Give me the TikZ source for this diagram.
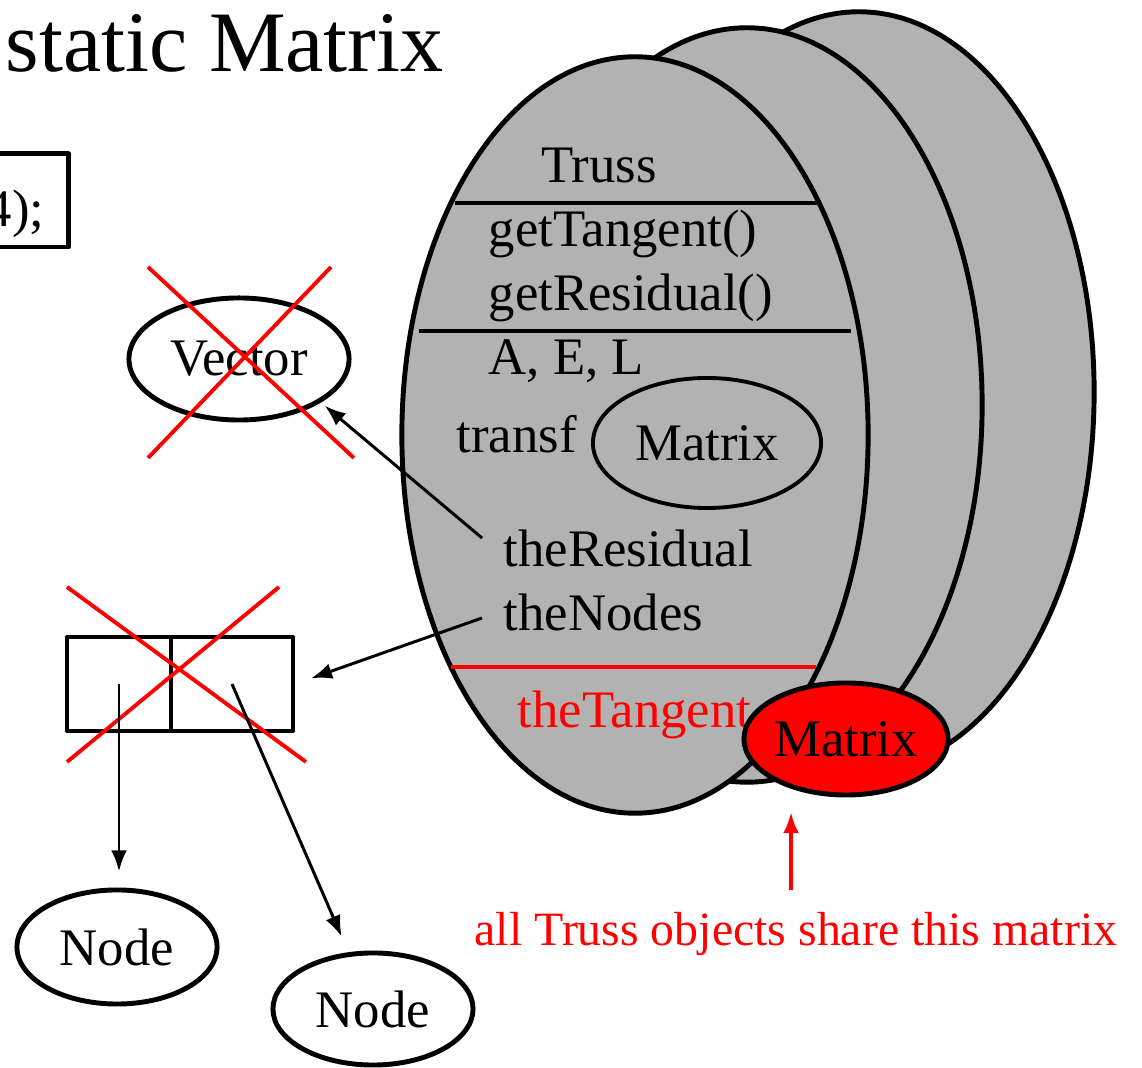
\documentclass[tikz,border=0pt]{standalone}
\usepackage{fontspec}
\setmainfont{Liberation Serif}
\usetikzlibrary{shapes.geometric,arrows.meta}
\definecolor{shell}{RGB}{178,178,178}

\begin{document}
\begin{tikzpicture}[x=0.01cm,y=-0.01cm,line join=round,>={Latex[length=6pt,width=4.5pt]}]
    \tikzstyle{every node}=[font=\fontsize{15}{18}\selectfont]
    \tikzstyle{object}=[ellipse,draw=black,line width=1.4pt,inner sep=0pt]
    \tikzstyle{member}=[anchor=base west,inner sep=0pt]
    \tikzstyle{cell}=[rectangle,draw=black,line width=1.1pt,minimum height=0.94cm,inner sep=0pt]
    \tikzstyle{cross}=[red,line width=1.1pt]
    \tikzstyle{link}=[->,line width=0.85pt]
    \tikzstyle{layer}=[fill=shell,draw=black,line width=1.4pt]

    \useasboundingbox (0,0) rectangle (1142,1068);

    % Draw the title and the code box
    \node[member,font=\fontsize{24.5}{29}\selectfont] (title) at (5,72) {static Matrix};
    \node[draw=black,line width=1.4pt,anchor=base east,inner ysep=0pt,inner xsep=0.24cm,
          text height=0.73cm,text depth=0.2cm] (code) at (71,227) {4);};

    % Draw the three Truss objects, back to front
    \filldraw[layer] (859,392) ellipse [x radius=2.35cm, y radius=3.8cm];
    \filldraw[layer] (747,405) ellipse [x radius=2.35cm, y radius=3.77cm];
    \filldraw[layer] (635,435) ellipse [x radius=2.33cm, y radius=3.78cm];

    % Members of the front object
    \node[anchor=base,inner sep=0pt] (name) at (599,183) {Truss};
    \draw[line width=1.1pt] (455,203) -- (817,203);
    \node[member] (gettan) at (488,247) {getTangent()};
    \node[member] (getres) at (488,311) {getResidual()};
    \draw[line width=1.1pt] (419,331) -- (851,331);
    \node[member] (ael) at (488,375) {A, E, L};
    \node[member] (transf) at (456,453) {transf};
    \node[object,line width=1.1pt,minimum width=2.28cm,minimum height=1.3cm] (tmat) at (707,443) {Matrix};
    \node[member] (res) at (503,567) {theResidual};
    \node[member] (nds) at (503,631) {theNodes};
    \draw[red,line width=1pt] (451,667) -- (816,667);
    \node[member,red] (tan) at (517,728) {theTangent};
    \node[object,fill=red,minimum width=2.04cm,minimum height=1.12cm] (smat) at (846,739) {Matrix};

    % The shared matrix note
    \node[member,red,font=\fontsize{13.6}{16}\selectfont] (note) at (474,946) {all Truss objects share this matrix};
    \coordinate (share) at (791,890);
    \coordinate (sharetip) at (791,812);
    \draw[red,->,line width=1.1pt] (share) -- (sharetip);

    % Draw the deleted Vector
    \node[object,minimum width=2.2cm,minimum height=1.22cm] (vec) at (239,359) {Vector};
    \draw[cross] (148,267) -- (354,458);
    \draw[cross] (331,267) -- (148,458);

    % Draw the deleted node array
    \node[cell,minimum width=1.04cm] (slot1) at (119,684) {};
    \node[cell,minimum width=1.22cm] (slot2) at (232,684) {};
    \draw[cross] (67,587) -- (306,762);
    \draw[cross] (279,587) -- (67,762);

    % Draw the nodes
    \node[object,minimum width=2cm,minimum height=1.14cm] (node1) at (117,947) {Node};
    \node[object,minimum width=2cm,minimum height=1.12cm] (node2) at (373,1009) {Node};

    % Connect the pointers
    \coordinate (resptr) at (482,538);
    \coordinate (ndsptr) at (482,618);
    \draw[link,shorten >=0.05cm] (resptr) -- (vec.-28);
    \draw[link,shorten >=0.17cm] (ndsptr) -- (slot2.east);
    \draw[link,shorten >=0.16cm] (slot1.center) -- (slot1.center |- node1.north);
    \draw[link,shorten >=0.17cm] (slot2.center) -- (node2);
\end{tikzpicture}
\end{document}
